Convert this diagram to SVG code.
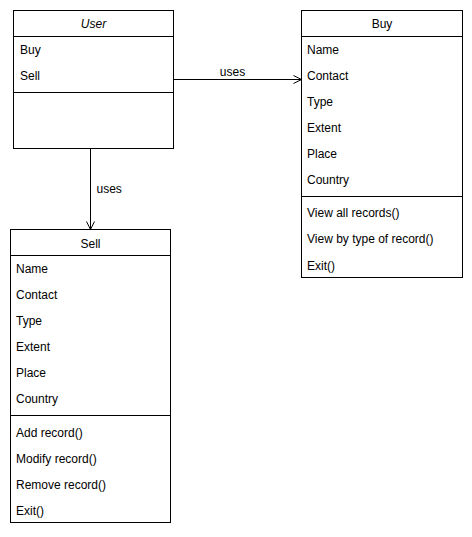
<svg xmlns="http://www.w3.org/2000/svg" width="472" height="537" viewBox="0 0 472 537">
<style>
.box{fill:#fff;stroke:#000;stroke-width:1}
.ln{stroke:#000;stroke-width:1;fill:none}
text{font-family:"Liberation Sans",Arial,sans-serif;font-size:12px;fill:#000}
.c{text-anchor:middle}
.i{font-style:italic}
</style>
<defs>
<marker id="open" markerUnits="userSpaceOnUse" viewBox="0 0 10 10" markerWidth="10" markerHeight="10" refX="10" refY="5" orient="auto">
<path d="M2,1 L10,5 L2,9" fill="none" stroke="#000" stroke-width="1"/>
</marker>
</defs>
<rect width="472" height="537" fill="#fff"/>
<g id="connectors">
<line class="ln" x1="173.5" y1="79.5" x2="301.5" y2="79.5" marker-end="url(#open)"/>
<text class="c" x="232.5" y="76">uses</text>
<line class="ln" x1="90.5" y1="148.5" x2="90.5" y2="229.5" marker-end="url(#open)"/>
<text x="96.5" y="193">uses</text>
</g>
<g id="user">
<rect class="box" x="13.5" y="10.5" width="160" height="138"/>
<line class="ln" x1="13.5" y1="36.5" x2="173.5" y2="36.5"/>
<line class="ln" x1="13.5" y1="92.5" x2="173.5" y2="92.5"/>
<text class="c i" x="93.5" y="28">User</text>
<text x="20" y="54">Buy</text>
<text x="20" y="80">Sell</text>
</g>
<g id="buy">
<rect class="box" x="301.5" y="10.5" width="161" height="267"/>
<line class="ln" x1="301.5" y1="36.5" x2="462.5" y2="36.5"/>
<line class="ln" x1="301.5" y1="196.5" x2="462.5" y2="196.5"/>
<text class="c" x="382" y="28">Buy</text>
<text x="307" y="53.5">Name</text>
<text x="307" y="79.5">Contact</text>
<text x="307" y="105.5">Type</text>
<text x="307" y="131.5">Extent</text>
<text x="307" y="157.5">Place</text>
<text x="307" y="183.5">Country</text>
<text x="307" y="216.5">View all records()</text>
<text x="307" y="243">View by type of record()</text>
<text x="307" y="269.5">Exit()</text>
</g>
<g id="sell">
<rect class="box" x="10.5" y="229.5" width="160" height="293"/>
<line class="ln" x1="10.5" y1="255.5" x2="170.5" y2="255.5"/>
<line class="ln" x1="10.5" y1="415.5" x2="170.5" y2="415.5"/>
<text class="c" x="90.5" y="248">Sell</text>
<text x="16" y="272.5">Name</text>
<text x="16" y="298.5">Contact</text>
<text x="16" y="324.5">Type</text>
<text x="16" y="350.5">Extent</text>
<text x="16" y="376.5">Place</text>
<text x="16" y="402.5">Country</text>
<text x="16" y="436.5">Add record()</text>
<text x="16" y="462.5">Modify record()</text>
<text x="16" y="489">Remove record()</text>
<text x="16" y="515">Exit()</text>
</g>
</svg>
